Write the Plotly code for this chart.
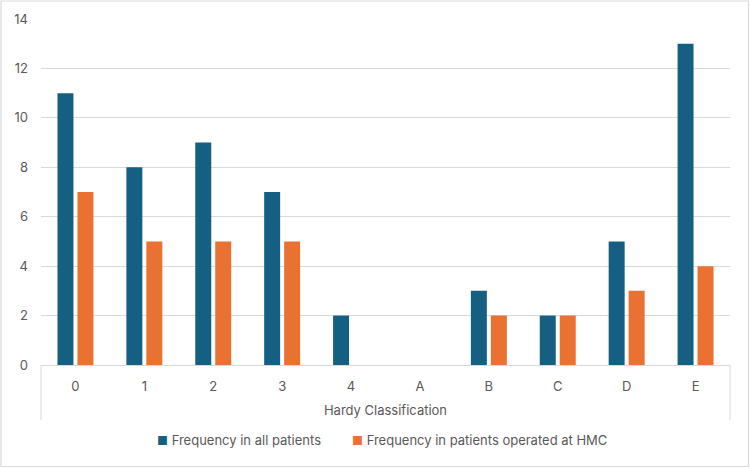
import plotly.graph_objects as go

categories = ["0", "1", "2", "3", "4", "A", "B", "C", "D", "E"]
all_patients = [11, 8, 9, 7, 2, 0, 3, 2, 5, 13]
hmc_patients = [7, 5, 5, 5, 0, 0, 2, 2, 3, 4]
y_ticks = [0, 2, 4, 6, 8, 10, 12, 14]
series_names = ["Frequency in all patients", "Frequency in patients operated at HMC"]
series_colors = ["#156082", "#E97132"]

W, H = 750, 468
L, R, T, B = 41, 20, 19, 103
pw, ph = W - L - R, H - T - B

def px_x(x):
    return (x - L) / pw

def px_y(y):
    return (H - B - y) / ph

font_color = "#595959"
font_family = "Inter, Open Sans, sans-serif"

fig = go.Figure()
for vals, name, col in zip([all_patients, hmc_patients], series_names, series_colors):
    fig.add_trace(go.Bar(x=categories, y=vals, name=name,
                         marker=dict(color=col, line=dict(width=0))))

# outer border
fig.add_shape(type="rect", xref="paper", yref="paper", x0=px_x(1), x1=px_x(748.5),
              y0=px_y(466.5), y1=px_y(1),
              line=dict(color="#D9D9D9", width=1.2), layer="below")
# category box lines
for xx in [0, 1]:
    fig.add_shape(type="line", xref="paper", yref="paper", x0=xx, x1=xx, y0=0, y1=px_y(420),
                  line=dict(color="#D9D9D9", width=1))

# legend drawn as text with coloured squares
legend_x = [px_x(155), px_x(350)]
for name, col, lx in zip(series_names, series_colors, legend_x):
    fig.add_annotation(xref="paper", yref="paper", x=lx, y=px_y(440), xanchor="left",
                       yanchor="middle", showarrow=False,
                       text=f"<span style='color:{col};font-size:12px'>■</span> {name}",
                       font=dict(size=13, color=font_color))

fig.update_layout(
    width=W, height=H,
    margin=dict(l=L, r=R, t=T, b=B),
    paper_bgcolor="white", plot_bgcolor="white",
    barmode="group", bargap=0.42, bargroupgap=0.2,
    font=dict(family=font_family, size=13, color=font_color),
    showlegend=False,
    xaxis=dict(showgrid=False, showline=True, linecolor="#D9D9D9", linewidth=1,
               ticks="", ticklabelstandoff=9,
               title=dict(text="Hardy Classification", standoff=13,
                          font=dict(size=13, color=font_color))),
    yaxis=dict(range=[0, 14], tickvals=y_ticks, showgrid=True, gridcolor="#D9D9D9",
               gridwidth=1, zeroline=False, showline=False, ticks="", ticklabelstandoff=12),
)

fig.write_html("out.html")
